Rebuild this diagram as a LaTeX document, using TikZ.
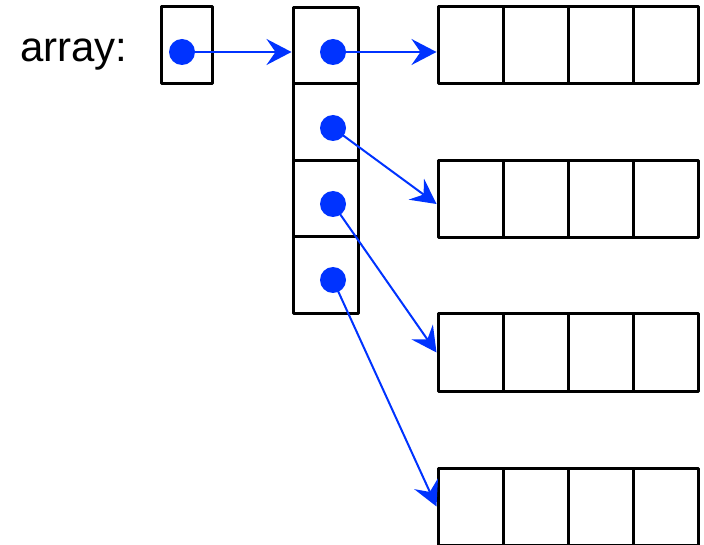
\documentclass[tikz,border=0pt]{standalone}
\usepackage{fontspec}
\setmainfont{Liberation Sans}
\usetikzlibrary{arrows.meta}
\definecolor{ptrblue}{RGB}{0,51,255}
\tikzset{cell/.style={draw, line width=3pt, line join=round,
  minimum width=65pt, minimum height=77pt, inner sep=0pt}}
\tikzset{ptrdot/.style={circle, fill=ptrblue, minimum size=26pt, inner sep=0pt}}
\tikzset{ptr/.style={draw=ptrblue, line width=2pt,
  -{Stealth[length=25pt, width=26pt, inset=9pt]}}}

\begin{document}
\begin{tikzpicture}[x=1pt, y=-1pt]
\useasboundingbox (0,0) rectangle (704,545);

\node[anchor=base west, inner sep=0pt, font=\fontsize{42}{50}\selectfont] (lbl) at (20,62) {array:};

% pointer to the column
\node[cell, minimum width=51pt] (top) at (186.5,45.5) {};

% column of pointers
\foreach \i/\y in {1/45.5, 2/122, 3/198.5, 4/275}
  \node[cell, minimum height=76.5pt] (c\i) at (325.5,\y) {};

% rows
\foreach \row/\y in {1/45.5, 2/199, 3/352.5, 4/506.5}
  \foreach \col in {1,...,4}
    \node[cell] (r\row c\col) at ({405.5+65*\col},\y) {};

\node[ptrdot] (p0) at (182,52) {};
\foreach \i/\y in {1/52, 2/128, 3/204, 4/280}
  \node[ptrdot] (p\i) at (333,\y) {};

\draw[ptr] (p0.center) -- (c1.west |- p0);
\draw[ptr] (p1.center) -- (r1c1.west |- p1);
\draw[ptr] (p2.center) -- ([yshift=-5pt]r2c1.west);
\draw[ptr] (p3.center) -- (r3c1.west);
\draw[ptr] (p4.center) -- (r4c1.west);
\end{tikzpicture}
\end{document}
